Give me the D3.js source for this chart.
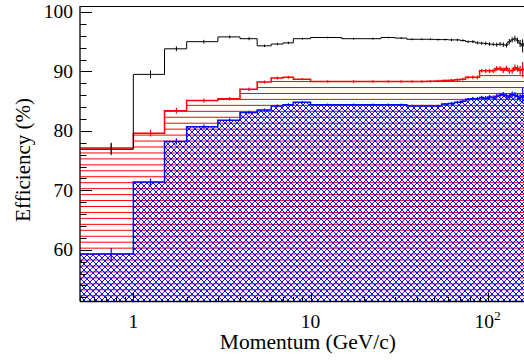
<!DOCTYPE html>
<html>
<head>
<meta charset="utf-8">
<script src="https://cdn.jsdelivr.net/npm/d3@7"></script>
<style>
  html, body { margin: 0; padding: 0; background: #fff; }
  svg { display: block; font-family: "Liberation Serif", "DejaVu Serif", serif; }
</style>
</head>
<body>
<div id="chart"></div>
<script>
const width = 524;
const height = 360;

// bin edges in GeV/c
const binEdges = [0.5, 1, 1.5, 2, 3, 4, 5, 6, 7, 8, 10, 15, 20, 25, 30, 35, 40, 45, 50,
  55, 60, 65, 70, 75, 80, 85, 90, 95, 100, 105, 110, 115, 120, 125, 130, 135, 140,
  145, 150, 155, 160, 170, 180, 200];

const blackEff = [76.9, 89.5, 93.8, 95.0, 95.8, 95.5, 94.3, 94.6, 94.8, 95.5,
  95.7, 95.5, 95.5, 95.7, 95.6, 95.4, 95.4, 95.4, 95.35, 95.35,
  95.3, 95.3, 95.2, 95.0, 95.0, 94.8, 94.75, 94.7, 94.6, 94.55,
  94.5, 94.6, 94.5, 94.4, 95.0, 95.3, 95.5, 95.2, 94.7, 94.3,
  94.8, 94.6, 94.5];
const blackErr = [1.0, 0.67, 0.4, 0.3, 0.25, 0.25, 0.2, 0.2, 0.2, 0.15,
  0.15, 0.15, 0.15, 0.15, 0.15, 0.15, 0.15, 0.15, 0.15, 0.15,
  0.2, 0.2, 0.2, 0.2, 0.25, 0.25, 0.25, 0.3, 0.3, 0.3,
  0.35, 0.35, 0.4, 0.4, 0.45, 0.45, 0.5, 0.5, 0.6, 1.1,
  0.7, 0.8, 0.9];

const redEff = [77.1, 79.6, 83.4, 85.1, 85.4, 87.0, 88.2, 88.9, 89.0, 88.7,
  88.3, 88.3, 88.3, 88.3, 88.3, 88.3, 88.3, 88.35, 88.4, 88.45,
  88.5, 88.6, 88.7, 89.0, 89.0, 89.0, 90.1, 90.1, 90.1, 90.1,
  90.5, 90.5, 90.2, 90.5, 90.1, 90.1, 90.6, 90.5, 90.2, 90.3,
  90.4, 90.3, 90.2];
const redErr = [0.9, 0.55, 0.5, 0.35, 0.3, 0.3, 0.25, 0.25, 0.25, 0.2,
  0.2, 0.2, 0.2, 0.2, 0.2, 0.2, 0.2, 0.2, 0.2, 0.2,
  0.25, 0.25, 0.25, 0.25, 0.3, 0.3, 0.3, 0.35, 0.35, 0.35,
  0.4, 0.4, 0.45, 0.45, 0.5, 0.5, 0.55, 0.55, 0.7, 1.3,
  0.8, 0.9, 1.0];

const blueEff = [59.3, 71.4, 78.2, 80.7, 81.8, 83.1, 83.5, 84.2, 84.4, 84.8,
  84.4, 84.4, 84.4, 84.4, 84.4, 84.2, 84.2, 84.2, 84.2, 84.5,
  84.6, 84.8, 85.0, 85.3, 85.4, 85.4, 85.6, 85.5, 85.7, 85.6,
  85.8, 86.0, 86.1, 85.9, 85.7, 86.1, 86.0, 85.8, 85.6, 85.9,
  85.8, 85.7, 85.6];
const blueErr = [1.0, 0.6, 0.5, 0.35, 0.3, 0.3, 0.25, 0.25, 0.25, 0.2,
  0.2, 0.2, 0.2, 0.2, 0.2, 0.2, 0.2, 0.2, 0.2, 0.2,
  0.25, 0.25, 0.25, 0.25, 0.3, 0.3, 0.3, 0.35, 0.35, 0.35,
  0.4, 0.4, 0.45, 0.45, 0.5, 0.5, 0.55, 0.55, 0.7, 1.3,
  0.8, 0.9, 1.0];

const yMajorTicks = [60, 70, 80, 90, 100];
const xMajorTicks = [1, 10, 100];

const plotLeft = 80;
const plotTop = 6;
const plotBottom = 301.5;
const plotRight = 541;

const x = d3.scaleLog().domain([0.5, 200]).range([plotLeft, plotRight]);
const y = d3.scaleLinear().domain([51.3, 101]).range([plotBottom, plotTop]);

const svg = d3.select("#chart")
  .append("svg")
  .attr("width", width)
  .attr("height", height);

const defs = svg.append("defs");

defs.append("clipPath")
  .attr("id", "plot-clip")
  .append("rect")
  .attr("x", plotLeft)
  .attr("y", plotTop)
  .attr("width", plotRight - plotLeft)
  .attr("height", plotBottom - plotTop);

// horizontal red hatch
const redHatch = defs.append("pattern")
  .attr("id", "red-hatch")
  .attr("patternUnits", "userSpaceOnUse")
  .attr("x", 0)
  .attr("y", 3.7)
  .attr("width", 20)
  .attr("height", 5.95);
redHatch.append("line")
  .attr("x1", 0).attr("x2", 20)
  .attr("y1", 0.5).attr("y2", 0.5)
  .attr("stroke", "#ff0000")
  .attr("stroke-width", 1);

// blue cross hatch
const blueHatch = defs.append("pattern")
  .attr("id", "blue-hatch")
  .attr("patternUnits", "userSpaceOnUse")
  .attr("width", 6)
  .attr("height", 6);
blueHatch.append("path")
  .attr("d", "M0,0L6,6M6,0L0,6M-1,5L1,7M5,-1L7,1M-1,1L1,-1M5,7L7,5")
  .attr("stroke", "#0000ff")
  .attr("stroke-width", 0.95)
  .attr("fill", "none");

function stepPoints(values) {
  const pts = [];
  values.forEach((v, i) => {
    pts.push([binEdges[i], v]);
    pts.push([binEdges[i + 1], v]);
  });
  return pts;
}

const stepLine = d3.line()
  .x((d) => x(d[0]))
  .y((d) => y(d[1]));

const stepArea = d3.area()
  .x((d) => x(d[0]))
  .y0(plotBottom)
  .y1((d) => y(d[1]));

const plot = svg.append("g").attr("clip-path", "url(#plot-clip)");

function drawErrors(values, errors, color, widthPx) {
  plot.append("g")
    .selectAll("line")
    .data(values)
    .join("line")
    .attr("x1", (d, i) => x((binEdges[i] + binEdges[i + 1]) / 2))
    .attr("x2", (d, i) => x((binEdges[i] + binEdges[i + 1]) / 2))
    .attr("y1", (d, i) => y(d - errors[i]))
    .attr("y2", (d, i) => y(d + errors[i]))
    .attr("stroke", color)
    .attr("stroke-width", widthPx);
}

// red histogram
plot.append("path")
  .attr("d", stepArea(stepPoints(redEff)))
  .attr("fill", "url(#red-hatch)");

// blue histogram on top
plot.append("path")
  .attr("d", stepArea(stepPoints(blueEff)))
  .attr("fill", "url(#blue-hatch)");

plot.append("path")
  .attr("d", stepLine(stepPoints(redEff)))
  .attr("fill", "none")
  .attr("stroke", "#ff0000")
  .attr("stroke-width", 1.5);
drawErrors(redEff, redErr, "#ff0000", 1.2);

plot.append("path")
  .attr("d", stepLine(stepPoints(blueEff)))
  .attr("fill", "none")
  .attr("stroke", "#0000ff")
  .attr("stroke-width", 1.5);
drawErrors(blueEff, blueErr, "#0000ff", 1.2);

plot.append("path")
  .attr("d", stepLine(stepPoints(blackEff)))
  .attr("fill", "none")
  .attr("stroke", "#000")
  .attr("stroke-width", 1);
drawErrors(blackEff, blackErr, "#000", 1);

// frame
const axes = svg.append("g").attr("stroke", "#000").attr("fill", "none");
axes.append("line")
  .attr("x1", plotLeft).attr("x2", plotRight)
  .attr("y1", plotTop + 0.5).attr("y2", plotTop + 0.5)
  .attr("stroke-width", 1);
axes.append("line")
  .attr("x1", plotLeft).attr("x2", plotRight)
  .attr("y1", plotBottom).attr("y2", plotBottom)
  .attr("stroke-width", 1.3);
axes.append("line")
  .attr("x1", plotLeft).attr("x2", plotLeft)
  .attr("y1", plotTop).attr("y2", plotBottom)
  .attr("stroke-width", 1.3);

// y ticks
const yMinor = d3.range(52, 101, 2);
axes.selectAll(".ymin")
  .data(yMinor)
  .join("line")
  .attr("x1", plotLeft)
  .attr("x2", (d) => plotLeft + (d % 10 === 0 ? 12 : 6.5))
  .attr("y1", (d) => Math.round(y(d)) + 0.5)
  .attr("y2", (d) => Math.round(y(d)) + 0.5)
  .attr("stroke-width", 1);

// x ticks
const xTicks = [];
[0.1, 1, 10, 100].forEach((dec) => {
  for (let k = 1; k <= 9; k++) {
    const v = dec * k;
    if (v >= 0.5 && v <= 200) xTicks.push(v);
  }
});
xTicks.push(200);
axes.selectAll(".xmin")
  .data(xTicks)
  .join("line")
  .attr("x1", (d) => Math.round(x(d)) + 0.5)
  .attr("x2", (d) => Math.round(x(d)) + 0.5)
  .attr("y1", plotBottom)
  .attr("y2", (d) => plotBottom - (xMajorTicks.includes(d) ? 9 : 4.5))
  .attr("stroke-width", 1);

// tick labels
svg.append("g")
  .selectAll("text")
  .data(yMajorTicks)
  .join("text")
  .attr("x", 73)
  .attr("y", (d) => y(d) + 6.5)
  .attr("text-anchor", "end")
  .attr("font-size", 19.5)
  .attr("fill", "#000")
  .text((d) => d);

const xLabels = svg.append("g");
xMajorTicks.forEach((t) => {
  const label = xLabels.append("text")
    .attr("x", x(t))
    .attr("y", 328)
    .attr("text-anchor", "middle")
    .attr("font-size", 19.5)
    .attr("fill", "#000");
  if (t === 100) {
    label.append("tspan").text("10");
    label.append("tspan")
      .attr("font-size", 13.5)
      .attr("dy", -8)
      .text("2");
  } else {
    label.text(t);
  }
});

// axis titles
svg.append("text")
  .attr("x", 396)
  .attr("y", 349)
  .attr("text-anchor", "end")
  .attr("font-size", 21.5)
  .attr("fill", "#000")
  .text("Momentum (GeV/c)");

svg.append("text")
  .attr("transform", "translate(30,98) rotate(-90)")
  .attr("text-anchor", "end")
  .attr("font-size", 21)
  .attr("fill", "#000")
  .text("Efficiency (%)");
</script>
</body>
</html>
